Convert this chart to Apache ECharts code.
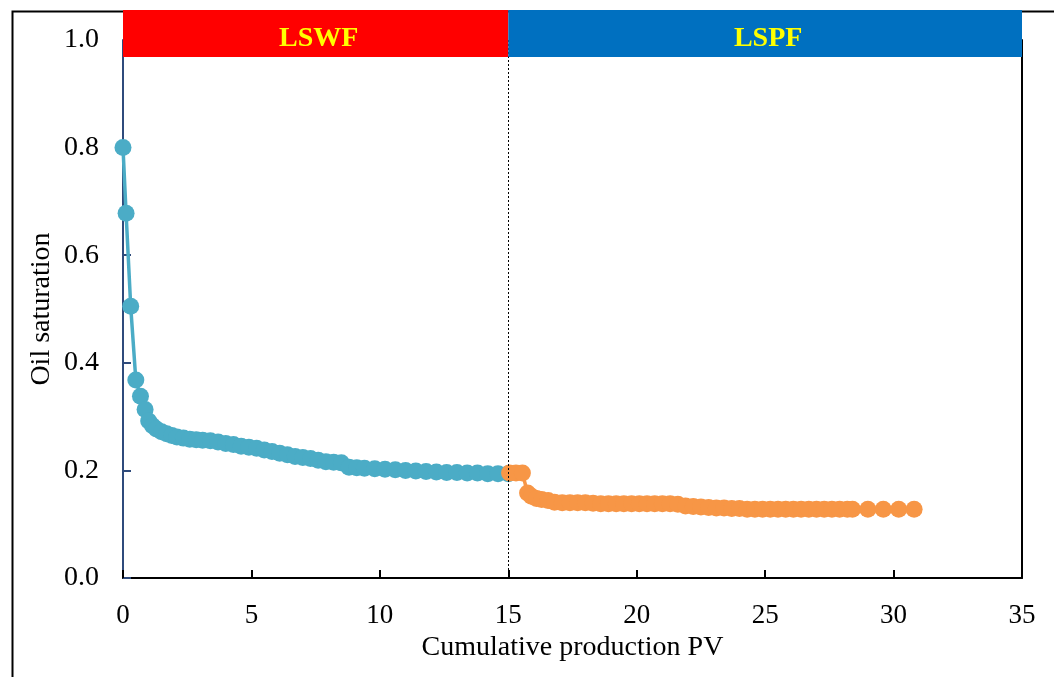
<!DOCTYPE html>
<html>
<head>
<meta charset="utf-8">
<script src="https://cdn.jsdelivr.net/npm/echarts@6/dist/echarts.min.js"></script>
<style>
  html, body { margin: 0; padding: 0; background: #fff; }
  #chart { width: 1054px; height: 677px; }
</style>
</head>
<body>
<div id="chart"></div>
<script>
// LSWF stage: [cumulative PV, oil saturation]
const lswfData = [
  [0, 0.80], [0.12, 0.678], [0.3, 0.505], [0.5, 0.368], [0.68, 0.338], [0.86, 0.313],
  [1.0, 0.292], [1.15, 0.283], [1.3, 0.277], [1.5, 0.272], [1.7, 0.268], [1.9, 0.265],
  [2.1, 0.262], [2.35, 0.26], [2.6, 0.258], [2.85, 0.257], [3.1, 0.256], [3.4, 0.255],
  [3.7, 0.253], [4.0, 0.25], [4.3, 0.248], [4.6, 0.245], [4.9, 0.243], [5.2, 0.241],
  [5.5, 0.238], [5.8, 0.235], [6.1, 0.232], [6.4, 0.229], [6.7, 0.226], [7.0, 0.224],
  [7.3, 0.222], [7.6, 0.219], [7.9, 0.216], [8.2, 0.215], [8.5, 0.214], [8.8, 0.206],
  [9.1, 0.205], [9.4, 0.204], [9.8, 0.203], [10.2, 0.202], [10.6, 0.201], [11.0, 0.2],
  [11.4, 0.199], [11.8, 0.198], [12.2, 0.197], [12.6, 0.196], [13.0, 0.196], [13.4, 0.195],
  [13.8, 0.195], [14.2, 0.194], [14.6, 0.194], [15.0, 0.194]
];

// LSPF stage
const lspfData = [
  [15.05, 0.195], [15.3, 0.195], [15.55, 0.195], [15.75, 0.158], [15.9, 0.152], [16.1, 0.148],
  [16.3, 0.146], [16.55, 0.144], [16.8, 0.141], [17.1, 0.14], [17.4, 0.14], [17.7, 0.14],
  [18.0, 0.14], [18.3, 0.139], [18.6, 0.138], [18.9, 0.138], [19.2, 0.138], [19.5, 0.138],
  [19.8, 0.138], [20.1, 0.138], [20.4, 0.138], [20.7, 0.138], [21.0, 0.138], [21.3, 0.138],
  [21.6, 0.137], [21.9, 0.134], [22.2, 0.133], [22.5, 0.132], [22.8, 0.131], [23.1, 0.13],
  [23.4, 0.13], [23.7, 0.129], [24.0, 0.129], [24.3, 0.128], [24.6, 0.128], [24.9, 0.128],
  [25.2, 0.128], [25.5, 0.128], [25.8, 0.128], [26.1, 0.128], [26.4, 0.128], [26.7, 0.128],
  [27.0, 0.128], [27.3, 0.128], [27.6, 0.128], [27.9, 0.128], [28.2, 0.128], [28.4, 0.128],
  [29.0, 0.128], [29.6, 0.128], [30.2, 0.128], [30.8, 0.128]
];

// stage banners across the top
const bannerLabels = ['LSWF', 'LSPF'];
const bannerStart = [0, 15];
const bannerEnd = [15, 35];
const bannerColors = ['#ff0000', '#0070c0'];

const stageBoundary = 15;

const FONT = '"Liberation Serif", "Times New Roman", serif';

const chart = echarts.init(document.getElementById('chart'));

const option = {
  animation: false,
  backgroundColor: '#fff',
  graphic: [{
    type: 'rect',
    left: 10, top: 9,
    shape: { width: 1100, height: 720 },
    style: { fill: 'none', stroke: '#000', lineWidth: 2 },
    silent: true, z: -10
  }],
  grid: [
    { left: 123, right: 32, top: 40, bottom: 99, show: false },
    { left: 123, right: 32, top: 10, height: 47, show: false }
  ],
  xAxis: [{
    type: 'value', gridIndex: 0,
    min: 0, max: 35, interval: 5,
    name: 'Cumulative production PV',
    nameLocation: 'middle', nameGap: 56,
    nameTextStyle: { fontFamily: FONT, fontSize: 28, color: '#000' },
    axisLine: { onZero: false, lineStyle: { color: '#000', width: 2 } },
    axisTick: { inside: true, length: 8, lineStyle: { color: '#000', width: 2 } },
    axisLabel: { fontFamily: FONT, fontSize: 27, color: '#000', margin: 24 },
    splitLine: { show: false }
  }, {
    type: 'value', gridIndex: 1, min: 0, max: 35, show: false
  }],
  yAxis: [{
    type: 'value', gridIndex: 0,
    min: 0, max: 1, interval: 0.2,
    name: 'Oil saturation',
    nameLocation: 'middle', nameGap: 67,
    nameMoveOverlap: false,
    nameTextStyle: { fontFamily: FONT, fontSize: 28, color: '#000' },
    axisLine: { show: true, lineStyle: { color: '#2f4b7c', width: 2 } },
    axisTick: { inside: true, length: 8, lineStyle: { color: '#2f4b7c', width: 2 } },
    axisLabel: { fontFamily: FONT, fontSize: 28, color: '#000', margin: 24,
      formatter: v => v.toFixed(1) },
    splitLine: { show: false }
  }, {
    type: 'value', gridIndex: 0, position: 'right',
    min: 0, max: 1,
    axisLine: { show: true, lineStyle: { color: '#000', width: 2 } },
    axisTick: { show: false }, axisLabel: { show: false }, splitLine: { show: false }
  }, {
    type: 'value', gridIndex: 1, min: 0, max: 1, show: false
  }],
  series: [{
    name: 'LSWF', type: 'line',
    xAxisIndex: 0, yAxisIndex: 0,
    data: lswfData,
    symbol: 'circle', symbolSize: 17,
    itemStyle: { color: '#4bacc6' },
    lineStyle: { color: '#4bacc6', width: 3.5 },
    markLine: {
      silent: true, symbol: 'none', label: { show: false },
      lineStyle: { color: '#000', type: [2, 2], width: 1 },
      data: [{ xAxis: stageBoundary }]
    },
    z: 3
  }, {
    name: 'LSPF', type: 'line',
    xAxisIndex: 0, yAxisIndex: 0,
    data: lspfData,
    symbol: 'circle', symbolSize: 17,
    itemStyle: { color: '#f79646' },
    lineStyle: { color: '#f79646', width: 3.5 },
    z: 4
  }, {
    type: 'custom',
    xAxisIndex: 1, yAxisIndex: 2,
    data: bannerLabels.map((_, i) => [bannerStart[i], bannerEnd[i]]),
    z: 10,
    renderItem: (params, api) => {
      const i = params.dataIndex;
      const s = api.coord([api.value(0), 1]);
      const e = api.coord([api.value(1), 0]);
      return {
        type: 'group',
        children: [{
          type: 'rect',
          shape: { x: s[0], y: s[1], width: e[0] - s[0], height: e[1] - s[1] },
          style: { fill: bannerColors[i] }
        }, {
          type: 'text',
          style: {
            text: bannerLabels[i],
            x: (s[0] + e[0]) / 2 + 3, y: (s[1] + e[1]) / 2 + 5,
            align: 'center', verticalAlign: 'middle',
            fill: '#ffff00',
            font: 'bold 28px ' + FONT
          }
        }]
      };
    }
  }]
};

chart.setOption(option);
</script>
</body>
</html>
